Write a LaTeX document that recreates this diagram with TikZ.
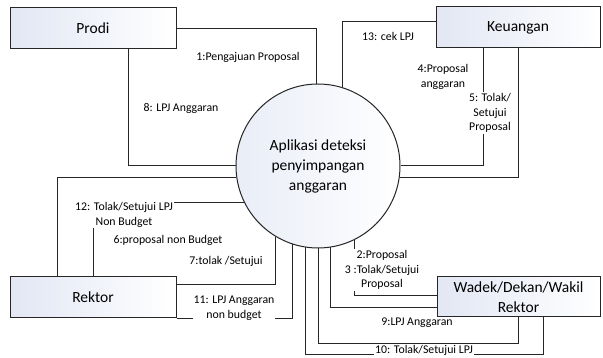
\documentclass[tikz,border=0pt]{standalone}
\usepackage{fontspec}
\setmainfont{Carlito}
\definecolor{shadeblue}{RGB}{226,231,244}
\definecolor{shadepale}{RGB}{233,237,247}
\begin{document}
\begin{tikzpicture}[x=1pt, y=-1pt,
	entity/.style={draw=black!85, line width=1pt, left color=shadeblue, right color=white, minimum width=166pt, minimum height=41pt, inner sep=2pt, align=center, font=\fontsize{15.5}{20}\selectfont},
	process/.style={circle, draw=black!85, line width=1pt, left color=shadepale, right color=white, minimum size=164pt, inner sep=0pt, align=center, font=\fontsize{15.5}{20}\selectfont},
	flow/.style={draw=black!85, line width=1pt},
	lbl/.style={fill=white, inner sep=1pt, align=center, font=\fontsize{11.8}{14.5}\selectfont}]
	\useasboundingbox (0,0) rectangle (603,358);
	\node[entity] (prodi) at (93,28.5) {Prodi}; % Prodi
\node[entity, minimum width=164pt] (keuangan) at (518,27.5) {Keuangan}; % Keuangan
\node[entity] (rektor) at (93,297.5) {Rektor}; % Rektor
\node[entity, minimum width=163pt, minimum height=40pt] (wadek) at (518.5,297) {Wadek/Dekan/Wakil\\Rektor}; % Wadek
\node[process] (app) at (318,166) {Aplikasi deteksi\\penyimpangan\\anggaran}; % Aplikasi
\draw[flow] (prodi.east) -| (app.91.4); % flow.1
\draw[flow] (prodi.south -| 128,0) |- (app.west); % flow.8
\draw[flow] (keuangan.west |- 0,22) -| (app.73); % flow.13
\draw[flow] (keuangan.south -| 483,0) |- (app.east); % flow.4
\draw[flow] (keuangan.south) |- (app.-8.4); % flow.5
\draw[flow] (rektor.north -| 57,0) |- (app.188.4); % flow.6a
\draw[flow] (rektor.north) |- (app.206.8); % flow.12
\draw[flow] (rektor.east |- 0,285) -| (app.239.2); % flow.6
\draw[flow] (rektor.south east) -| (app.252.3); % flow.11
\draw[flow] (app.-64.7) |- (wadek.west |- 0,296); % flow.2
\draw[flow] (app.-81.6) |- (wadek.west |- 0,308); % flow.9
\draw[flow] (app.south) |- (wadek.south |- 0,344) -- (wadek.south); % flow.10
\draw[flow] (app.-99.1) |- (543,355) -- (wadek.south -| 543,0); % flow.10b
\node[lbl] (l1) at (248,57) {1:Pengajuan Proposal}; % flow.1
\node[lbl] (l8) at (181,108) {8: LPJ Anggaran}; % flow.8
\node[lbl] (l13) at (388,36) {13: cek LPJ}; % flow.13
\node[lbl] (l4) at (443,77) {4:Proposal\\anggaran}; % flow.4
\node[lbl] (l5) at (490,113) {5: Tolak/\\Setujui\\Proposal}; % flow.5
\node[lbl] (l12) at (124,215) {12: Tolak/Setujui LPJ\\Non Budget}; % flow.12
\node[lbl] (l6) at (168,240) {6:proposal non Budget}; % flow.6
\node[lbl] (l7) at (226,261) {7:tolak /Setujui}; % flow.7
\node[lbl] (l11) at (234,308) {11: LPJ Anggaran\\non budget}; % flow.11
\node[lbl] (l2) at (382,270) {2:Proposal\\3 :Tolak/Setujui\\Proposal}; % flow.2
\node[lbl] (l9) at (417,323) {9:LPJ Anggaran}; % flow.9
\node[lbl] (l10) at (424,350) {10: Tolak/Setujui LPJ}; % flow.10

	\end{tikzpicture}
\end{document}
